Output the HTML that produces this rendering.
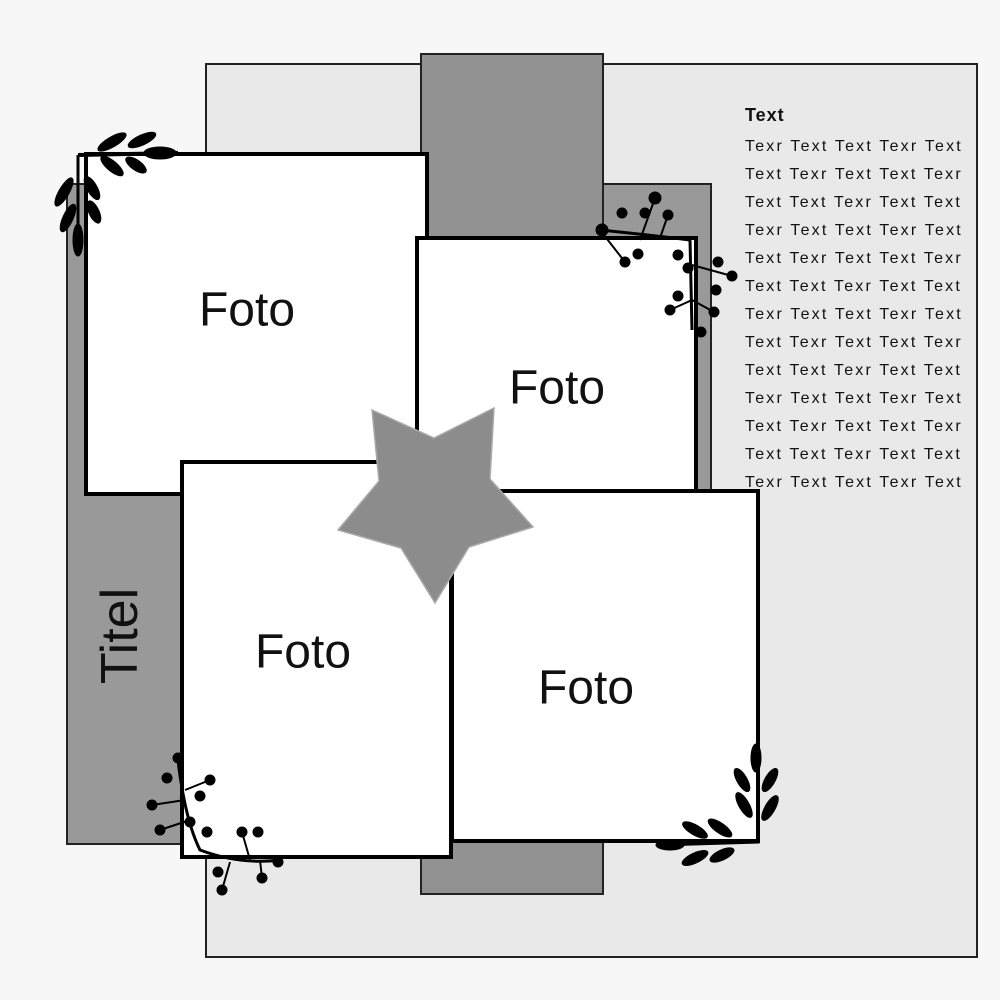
<!DOCTYPE html>
<html><head><meta charset="utf-8"><style>
body{margin:0;background:#f7f7f7;}
.wrap{position:relative;width:1000px;height:1000px;overflow:hidden;font-family:"Liberation Sans",sans-serif;}
.b{position:absolute;box-sizing:border-box;}
.foto{position:absolute;font-size:48px;color:#111;transform:translate(-50%,-50%);white-space:nowrap;}
.tx{position:absolute;left:745px;font-size:16px;letter-spacing:2.2px;color:#111;white-space:nowrap;}
</style></head><body><div class="wrap">
<div class="b" style="left:205px;top:63px;width:773px;height:895px;background:#e9e9e9;border:2px solid #222"></div>
<div class="b" style="left:420px;top:53px;width:184px;height:842px;background:#929292;border:2px solid #222"></div>
<div class="b" style="left:66px;top:183px;width:120px;height:662px;background:#999;border:2px solid #222"></div>
<div class="b" style="left:602px;top:183px;width:110px;height:310px;background:#999;border:2px solid #222"></div>
<div class="b" style="left:84px;top:152px;width:345px;height:344px;background:#fff;border:4px solid #000"></div>
<div class="b" style="left:415px;top:236px;width:283px;height:258px;background:#fff;border:4px solid #000"></div>
<div class="b" style="left:180px;top:460px;width:273px;height:399px;background:#fff;border:4px solid #000"></div>
<div class="b" style="left:450px;top:489px;width:310px;height:354px;background:#fff;border:4px solid #000"></div>
<div class="foto" style="left:247px;top:310px">Foto</div>
<div class="foto" style="left:557px;top:388px">Foto</div>
<div class="foto" style="left:303px;top:652px">Foto</div>
<div class="foto" style="left:586px;top:688px">Foto</div>
<div class="foto" style="left:120px;top:636px;font-size:52px;transform:translate(-50%,-50%) rotate(-90deg)">Titel</div>
<svg width="1000" height="1000" style="position:absolute;left:0;top:0">
<polygon points="372,410 434,438 494,408 490,479 533,527 469,547 435,603 401,548 338,530 379,481" fill="#8c8c8c" stroke="#aaa" stroke-width="1.5"/>
<g fill="#000" stroke="#000">
<path d="M78,155 L178,153" stroke-width="4"/><path d="M78,155 L78,255" stroke-width="3"/>
<ellipse cx="112" cy="142" rx="16" ry="5" transform="rotate(-30 112 142)"/>
<ellipse cx="142" cy="140" rx="15" ry="5" transform="rotate(-25 142 140)"/>
<ellipse cx="160" cy="153" rx="16" ry="6"/>
<ellipse cx="112" cy="166" rx="14" ry="5" transform="rotate(40 112 166)"/>
<ellipse cx="136" cy="165" rx="12" ry="5" transform="rotate(35 136 165)"/>
<ellipse cx="64" cy="192" rx="16" ry="5" transform="rotate(-60 64 192)"/>
<ellipse cx="92" cy="188" rx="13" ry="5" transform="rotate(60 92 188)"/>
<ellipse cx="68" cy="218" rx="15" ry="5" transform="rotate(-65 68 218)"/>
<ellipse cx="94" cy="212" rx="12" ry="5" transform="rotate(65 94 212)"/>
<ellipse cx="78" cy="240" rx="5" ry="16"/>
<path d="M600,230 Q650,235 690,240 L692,330" stroke-width="3" fill="none"/>
<circle cx="602" cy="230" r="6"/><circle cx="622" cy="213" r="5"/><circle cx="655" cy="198" r="6"/><circle cx="645" cy="213" r="5"/><circle cx="668" cy="215" r="5"/>
<circle cx="625" cy="262" r="5"/><circle cx="638" cy="254" r="5"/><circle cx="678" cy="255" r="5"/><circle cx="688" cy="268" r="5"/>
<circle cx="718" cy="262" r="5"/><circle cx="732" cy="276" r="5"/><circle cx="716" cy="290" r="5"/>
<circle cx="670" cy="310" r="5"/><circle cx="678" cy="296" r="5"/><circle cx="714" cy="312" r="5"/><circle cx="701" cy="332" r="5"/>
<path d="M600,230 L625,262 M640,240 L655,198 M660,238 L668,215 M692,265 L732,276 M692,300 L670,310 M692,300 L714,312" stroke-width="2" fill="none"/>
<path d="M178,760 Q185,820 200,850 Q240,865 280,860" stroke-width="3" fill="none"/>
<circle cx="178" cy="758" r="5"/><circle cx="167" cy="778" r="5"/><circle cx="210" cy="780" r="5"/><circle cx="200" cy="796" r="5"/>
<circle cx="152" cy="805" r="5"/><circle cx="160" cy="830" r="5"/><circle cx="207" cy="832" r="5"/><circle cx="190" cy="822" r="5"/>
<circle cx="218" cy="872" r="5"/><circle cx="222" cy="890" r="5"/><circle cx="242" cy="832" r="5"/><circle cx="258" cy="832" r="5"/>
<circle cx="262" cy="878" r="5"/><circle cx="278" cy="862" r="5"/>
<path d="M185,800 L152,805 M190,820 L160,830 M185,790 L210,780 M230,862 L222,890 M250,860 L242,832 M260,860 L262,878" stroke-width="2" fill="none"/>
<path d="M660,845 L758,842 L758,745" stroke-width="3" fill="none"/>
<ellipse cx="670" cy="845" rx="14" ry="5"/>
<ellipse cx="695" cy="830" rx="14" ry="5" transform="rotate(30 695 830)"/>
<ellipse cx="720" cy="828" rx="14" ry="5" transform="rotate(35 720 828)"/>
<ellipse cx="695" cy="858" rx="14" ry="5" transform="rotate(-25 695 858)"/>
<ellipse cx="722" cy="855" rx="13" ry="5" transform="rotate(-25 722 855)"/>
<ellipse cx="744" cy="805" rx="5" ry="14" transform="rotate(-30 744 805)"/>
<ellipse cx="770" cy="808" rx="5" ry="14" transform="rotate(30 770 808)"/>
<ellipse cx="742" cy="780" rx="5" ry="13" transform="rotate(-30 742 780)"/>
<ellipse cx="770" cy="780" rx="5" ry="13" transform="rotate(30 770 780)"/>
<ellipse cx="756" cy="758" rx="5" ry="14"/>
</g>
</svg>
<div class="tx" style="top:105px;font-weight:bold;font-size:18px;letter-spacing:1px">Text</div>
<div class="tx" style="top:138px">Texr Text Text Texr Text</div>
<div class="tx" style="top:166px">Text Texr Text Text Texr</div>
<div class="tx" style="top:194px">Text Text Texr Text Text</div>
<div class="tx" style="top:222px">Texr Text Text Texr Text</div>
<div class="tx" style="top:250px">Text Texr Text Text Texr</div>
<div class="tx" style="top:278px">Text Text Texr Text Text</div>
<div class="tx" style="top:306px">Texr Text Text Texr Text</div>
<div class="tx" style="top:334px">Text Texr Text Text Texr</div>
<div class="tx" style="top:362px">Text Text Texr Text Text</div>
<div class="tx" style="top:390px">Texr Text Text Texr Text</div>
<div class="tx" style="top:418px">Text Texr Text Text Texr</div>
<div class="tx" style="top:446px">Text Text Texr Text Text</div>
<div class="tx" style="top:474px">Texr Text Text Texr Text</div>
</div></body></html>
